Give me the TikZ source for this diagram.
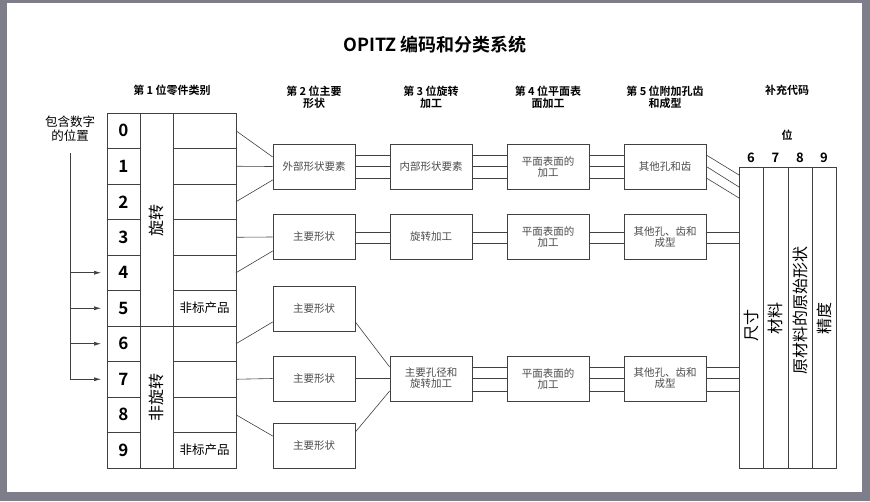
\documentclass[tikz,border=0pt]{standalone}
\usepackage{fontspec}
\setmainfont{Noto Sans CJK SC}
\newfontfamily\cjkb{Noto Sans CJK SC Bold}
\usetikzlibrary{arrows.meta}
\begin{document}
\begin{tikzpicture}[x=1pt,y=-1pt,
  ln/.style={draw=black!75,line width=0.6pt},
  bx/.style={draw=black!75,line width=0.7pt,minimum width=82pt,minimum height=45pt,inner sep=1pt,align=center,font=\fontsize{10.5}{11}\selectfont,text=black!70},
  hd/.style={align=center,font=\cjkb\fontsize{11}{12}\selectfont},
  dg/.style={font=\cjkb\fontsize{17}{17}\selectfont},
  vt/.style={rotate=90,font=\fontsize{16}{16}\selectfont},
  lab/.style={font=\fontsize{12.5}{12.5}\selectfont}]
\fill[gray!80!blue!40!black!60] (0,0) rectangle (870,501);
\fill[white] (7,3) rectangle (862,492);
\useasboundingbox (0,0) rectangle (870,501);
\node[font=\cjkb\fontsize{18}{18}\selectfont] (title) at (435,45) {OPITZ 编码和分类系统};
% headers
\node[hd] (h1) at (172,90) {第 1 位零件类别};
\node[hd] (h2) at (314,97) {第 2 位主要\\形状};
\node[hd] (h3) at (431,97) {第 3 位旋转\\加工};
\node[hd] (h4) at (548,97) {第 4 位平面表\\面加工};
\node[hd] (h5) at (665,97) {第 5 位附加孔齿\\和成型};
\node[hd] (h6) at (787,90) {补充代码};
\node[align=center,font=\fontsize{12.5}{14}\selectfont] (pos) at (70,129) {包含数字\\的位置};
% table
\foreach \i in {0,...,9}{
  \pgfmathsetmacro\ya{113+35.5*\i}\pgfmathsetmacro\yb{113+35.5*(\i+1)}
  \draw[ln,line width=0.8pt] (107,\ya) rectangle (140,\yb);
  \draw[ln] (173,\ya) rectangle (236,\yb);
  \node[dg] (d\i) at (123.5,{(\ya+\yb)/2}) {\i};
  \coordinate (r\i) at (236,{(\ya+\yb)/2});
}
\draw[ln,line width=0.8pt] (140,113) rectangle (173,326);
\draw[ln,line width=0.8pt] (140,326) rectangle (173,468);
\node[vt] (rot) at (156.5,220) {旋转};
\node[vt] (nrot) at (156.5,397) {非旋转};
\node[lab] (f5) at (204.5,308) {非标产品};
\node[lab] (f9) at (204.5,450) {非标产品};
% arrows
\coordinate (vtop) at (70,153);
\coordinate (vbot) at (70,379);
\draw[ln] (vtop) -- (vbot);
\foreach \i in {4,5,6,7}{\draw[ln,-{Latex[length=7pt,width=4pt]}] (70,{113+35.5*\i+17.75}) -- (d\i.west -| 101,0);}
% boxes
\node[bx] (a1) at (314,166.5) {外部形状要素};
\node[bx] (a2) at (314,237) {主要形状};
\node[bx] (a3) at (314,308.5) {主要形状};
\node[bx] (a4) at (314,378.5) {主要形状};
\node[bx] (a5) at (314,445.5) {主要形状};
\node[bx] (b1) at (431,166.5) {内部形状要素};
\node[bx] (b2) at (431,237) {旋转加工};
\node[bx] (b3) at (431,378.5) {主要孔径和\\旋转加工};
\foreach \r/\y in {1/166.5,2/237,3/378.5}{
  \node[bx] (c\r) at (548,\y) {平面表面的\\加工};}
\node[bx] (e1) at (665,166.5) {其他孔和齿};
\node[bx] (e2) at (665,237) {其他孔、齿和\\成型};
\node[bx] (e3) at (665,378.5) {其他孔、齿和\\成型};
% right block
\foreach \k/\x in {6/751,7/775.5,8/800,9/824}{\node[dg,font=\cjkb\fontsize{13}{13}\selectfont] (n\k) at (\x,158) {\k};}
\node[lab,font=\cjkb\fontsize{11}{11}\selectfont] (wei) at (787,135) {位};
\foreach \xa/\xb in {739/763,763/788,788/812,812/836}{\draw[ln] (\xa,167) rectangle (\xb,468);}
\node[vt] at (751,325) {尺寸};
\node[vt] at (775.5,318) {材料};
\node[vt] at (800,310) {原材料的原始形状};
\node[vt] at (824,318) {精度};
% connectors table -> col2
\draw[ln] (r0) -- (a1.west |- 0,157);
\draw[ln] (r1) -- (a1.west |- 0,166.5);
\draw[ln] (r2) -- (a1.west |- 0,180);
\draw[ln] (r3) -- (a2.west |- 0,237);
\draw[ln] (r4) -- (a2.west |- 0,251);
\draw[ln] (r6) -- (a3.west |- 0,322);
\draw[ln] (r7) -- (a4.west);
\draw[ln] (r8) -- (a5.west |- 0,436);
% chains
\foreach \y in {155,166.5,178}{\draw[ln] (a1.east |- 0,\y) -- (b1.west |- 0,\y); \draw[ln] (b1.east |- 0,\y) -- (c1.west |- 0,\y); \draw[ln] (c1.east |- 0,\y) -- (e1.west |- 0,\y);}
\foreach \y in {232,243}{\draw[ln] (a2.east |- 0,\y) -- (b2.west |- 0,\y); \draw[ln] (b2.east |- 0,\y) -- (c2.west |- 0,\y); \draw[ln] (c2.east |- 0,\y) -- (e2.west |- 0,\y); \draw[ln] (e2.east |- 0,\y) -- (739,\y);}
\foreach \y in {367,378.5,391}{\draw[ln] (b3.east |- 0,\y) -- (c3.west |- 0,\y); \draw[ln] (c3.east |- 0,\y) -- (e3.west |- 0,\y); \draw[ln] (e3.east |- 0,\y) -- (739,\y);}
\draw[ln] (a3.east |- 0,322) -- (b3.west |- 0,367);
\draw[ln] (a4.east) -- (b3.west);
\draw[ln] (a5.east |- 0,432) -- (b3.west |- 0,391);
\draw[ln] (e1.east |- 0,155) -- (739,175);
\draw[ln] (e1.east |- 0,166.5) -- (739,187);
\draw[ln] (e1.east |- 0,178) -- (739,198);
\end{tikzpicture}
\end{document}
